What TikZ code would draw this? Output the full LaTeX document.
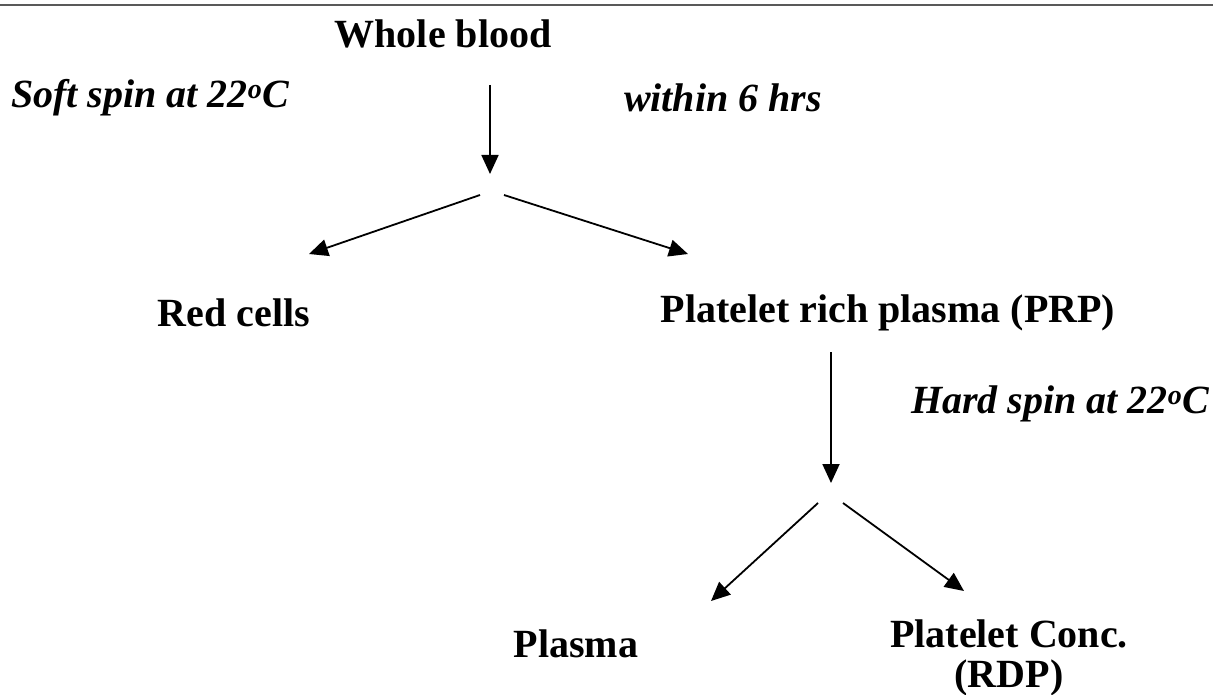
\documentclass[tikz,border=0pt]{standalone}
\usepackage{fontspec}
\setmainfont{Liberation Serif}
\usetikzlibrary{arrows.meta}
\begin{document}
\begin{tikzpicture}[x=1pt,y=-1pt,
  lbl/.style={font=\fontsize{40}{44}\selectfont\bfseries, inner sep=0pt, anchor=center},
  ilbl/.style={font=\fontsize{40}{44}\selectfont\bfseries\itshape, inner sep=0pt, anchor=center},
  flow/.style={line width=1.8pt, -{Triangle[length=19pt,width=17pt]}}]
\useasboundingbox (0,0) rectangle (1213,695);
\draw[line width=2pt, black!65] (0,5) -- (1213,5);
\node[lbl] (whole) at (443,34) {Whole blood};
\node[ilbl] (soft) at (150,98) {Soft spin at 22\textsuperscript{o}C};
\node[ilbl] (within) at (723,98) {within 6 hrs};
\node[lbl] (red) at (234,313) {Red cells};
\node[lbl] (prp) at (888,313) {Platelet rich plasma (PRP)};
\node[ilbl] (hard) at (1060,404) {Hard spin at 22\textsuperscript{o}C};
\node[lbl] (plasma) at (576,644) {Plasma};
\node[lbl, align=center, font=\fontsize{40}{40}\selectfont\bfseries] (conc) at (1009,658) {Platelet Conc.\\(RDP)};
\coordinate (a1s) at (490,85);
\coordinate (a1e) at (490,174);
\coordinate (l1s) at (480,195);
\coordinate (l1e) at (309,254);
\coordinate (r1s) at (504,195);
\coordinate (r1e) at (688,254);
\coordinate (a2s) at (831,352);
\coordinate (a2e) at (831,483);
\coordinate (l2s) at (818,503);
\coordinate (l2e) at (711,601);
\coordinate (r2s) at (843,503);
\coordinate (r2e) at (964,591);
\draw[flow] (a1s) -- (a1e);
\draw[flow] (l1s) -- (l1e);
\draw[flow] (r1s) -- (r1e);
\draw[flow] (a2s) -- (a2e);
\draw[flow] (l2s) -- (l2e);
\draw[flow] (r2s) -- (r2e);
\end{tikzpicture}
\end{document}
